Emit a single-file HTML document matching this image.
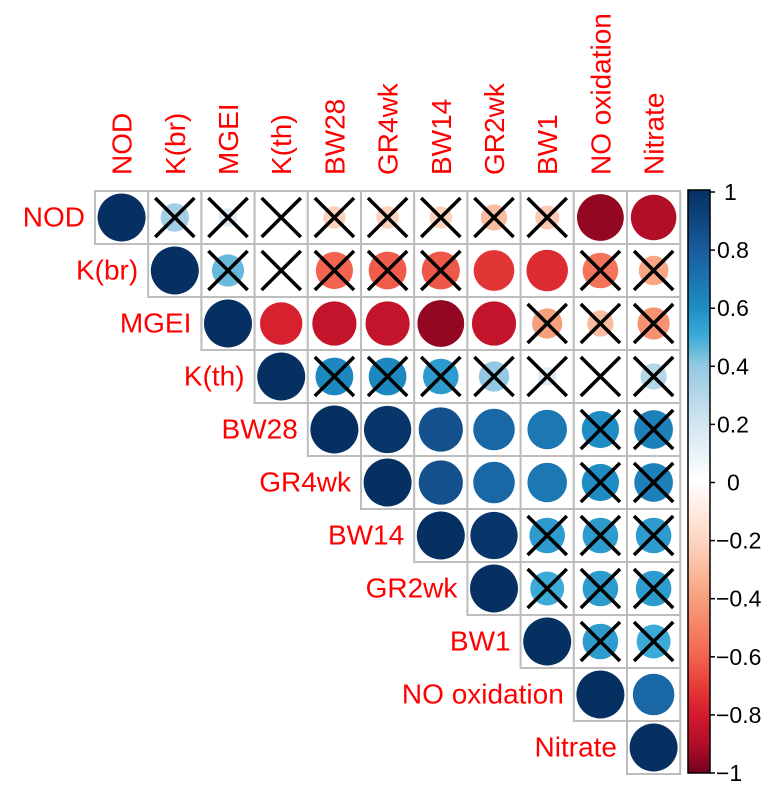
<!DOCTYPE html>
<html><head><meta charset="utf-8"><style>
body{margin:0;background:#fff;}
svg{display:block;font-family:"Liberation Sans",Arial,sans-serif;}
</style></head><body>
<svg id="chart" width="775" height="804"></svg>
<script>
const labels=["NOD","K(br)","MGEI","K(th)","BW28","GR4wk","BW14","GR2wk","BW1","NO oxidation","Nitrate"];
const rowNOD=[1,0.35,0.15,0.02,-0.22,-0.22,-0.22,-0.3,-0.25,-0.95,-0.9];
const rowKbr=[1,0.45,0.02,-0.6,-0.62,-0.63,-0.72,-0.75,-0.55,-0.38];
const rowMGEI=[1,-0.78,-0.85,-0.85,-0.95,-0.85,-0.4,-0.3,-0.45];
const rowKth=[1,0.62,0.62,0.55,0.4,0.15,0.02,0.3];
const rowBW28=[1,0.97,0.85,0.75,0.68,0.6,0.65];
const rowGR4wk=[1,0.85,0.75,0.68,0.6,0.65];
const rowBW14=[1,0.97,0.55,0.55,0.55];
const rowGR2wk=[1,0.5,0.55,0.55];
const rowBW1=[1,0.55,0.5];
const rowNO=[1,0.75];
const rowNitrate=[1];
const crossNOD=[0,1,1,1,1,1,1,1,1,0,0];
const crossKbr=[0,1,1,1,1,1,0,0,1,1];
const crossMGEI=[0,0,0,0,0,0,1,1,1];
const crossKth=[0,1,1,1,1,1,1,1];
const crossBW28=[0,0,0,0,0,1,1];
const crossGR4wk=[0,0,0,0,1,1];
const crossBW14=[0,0,1,1,1];
const crossGR2wk=[0,1,1,1];
const crossBW1=[0,1,1];
const crossNO=[0,0];
const crossNitrate=[0];
const tickValues=[1,0.8,0.6,0.4,0.2,0,-0.2,-0.4,-0.6,-0.8,-1];
const tickLabels=["1","0.8","0.6","0.4","0.2","0","\u22120.2","\u22120.4","\u22120.6","\u22120.8","\u22121"];

const rows=[rowNOD,rowKbr,rowMGEI,rowKth,rowBW28,rowGR4wk,rowBW14,rowGR2wk,rowBW1,rowNO,rowNitrate];
const crosses=[crossNOD,crossKbr,crossMGEI,crossKth,crossBW28,crossGR4wk,crossBW14,crossGR2wk,crossBW1,crossNO,crossNitrate];
const NS="http://www.w3.org/2000/svg";
const svg=document.getElementById('chart');
const X0=95,Y0=191,CW=53.2,CH=53;
const xPos=i=>X0+i*CW, yPos=j=>Y0+j*CH;
const CB_TOP=192,CB_BOT=773,CB_X=688,CB_W=22;
const yBar=v=>CB_TOP+(1-v)/2*(CB_BOT-CB_TOP);
const stops=[[-1,[115,0,30]],[-0.9,[178,14,40]],[-0.8,[212,26,45]],[-0.7,[230,60,55]],[-0.6,[242,100,80]],[-0.4,[247,160,125]],[-0.2,[253,215,195]],[0,[255,255,255]],[0.2,[209,229,240]],[0.4,[146,200,225]],[0.5,[60,170,215]],[0.6,[30,140,195]],[0.8,[24,90,156]],[1,[5,48,97]]];
function col(v){for(let k=0;k<stops.length-1;k++){const a=stops[k],b=stops[k+1];if(v<=b[0]){const t=(v-a[0])/(b[0]-a[0]);const c=a[1].map((x,i)=>Math.round(x+(b[1][i]-x)*t));return `rgb(${c.join(',')})`;}}return 'rgb(5,48,97)';}
function el(t,a){const e=document.createElementNS(NS,t);for(const k in a)e.setAttribute(k,a[k]);svg.appendChild(e);return e;}

rows.forEach((r,j)=>{r.forEach((v,k)=>{const i=j+k;
 const cell=el('rect',{x:xPos(i),y:yPos(j),width:CW,height:CH,fill:'#fff',stroke:'#bdbdbd','stroke-width':2});
 
 
});});
rows.forEach((r,j)=>{r.forEach((v,k)=>{const i=j+k;
 const cx=xPos(i)+CW/2,cy=yPos(j)+CH/2;
 const c=el('circle',{cx:cx,cy:cy,r:24*Math.sqrt(Math.abs(v)),fill:col(v)});
 
 
 if(crosses[j][k]){const m=7;
  const p=el('path',{d:`M${xPos(i)+m},${yPos(j)+m}L${xPos(i)+CW-m},${yPos(j)+CH-m}M${xPos(i)+CW-m},${yPos(j)+m}L${xPos(i)+m},${yPos(j)+CH-m}`,stroke:'#000','stroke-width':3.5,fill:'none'});
  
  }
});});
labels.forEach((l,i)=>{
 const cx=xPos(i)+CW/2+10;
 const t=el('text',{x:0,y:0,transform:`translate(${cx},175) rotate(-90)`,fill:'#ff0000','font-size':28});
 t.textContent=l;
 
 
 const r=el('text',{x:xPos(i)-10,y:yPos(i)+CH/2+9,'text-anchor':'end',fill:'#ff0000','font-size':28});
 r.textContent=l;
 
 
});
const defs=el('defs',{});
const lg=document.createElementNS(NS,'linearGradient');lg.setAttribute('id','g');lg.setAttribute('x1','0');lg.setAttribute('y1','0');lg.setAttribute('x2','0');lg.setAttribute('y2','1');
for(let s=0;s<=40;s++){const v=1-s/20;const st=document.createElementNS(NS,'stop');st.setAttribute('offset',(s/40));st.setAttribute('stop-color',col(v));lg.appendChild(st);}
defs.appendChild(lg);
const bar=el('rect',{x:CB_X,y:CB_TOP-2,width:CB_W,height:CB_BOT-CB_TOP+2,fill:'url(#g)',stroke:'#000','stroke-width':1.5});


tickValues.forEach((v,k)=>{const y=yBar(v);
 const tk=el('line',{x1:CB_X+CB_W,x2:CB_X+CB_W+5,y1:y,y2:y,stroke:'#000','stroke-width':1.5});
 
 
 let x=CB_X+CB_W+6;
 if(v>0&&v<1)x=CB_X+CB_W+7;
 if(v===1)x=CB_X+CB_W+14;
 if(v===0)x=CB_X+CB_W+17;
 const t=el('text',{x:x,y:y+8,fill:'#000','font-size':23,'text-anchor':'start'});
 t.textContent=tickLabels[k];
 
 
});
</script>
</body></html>
